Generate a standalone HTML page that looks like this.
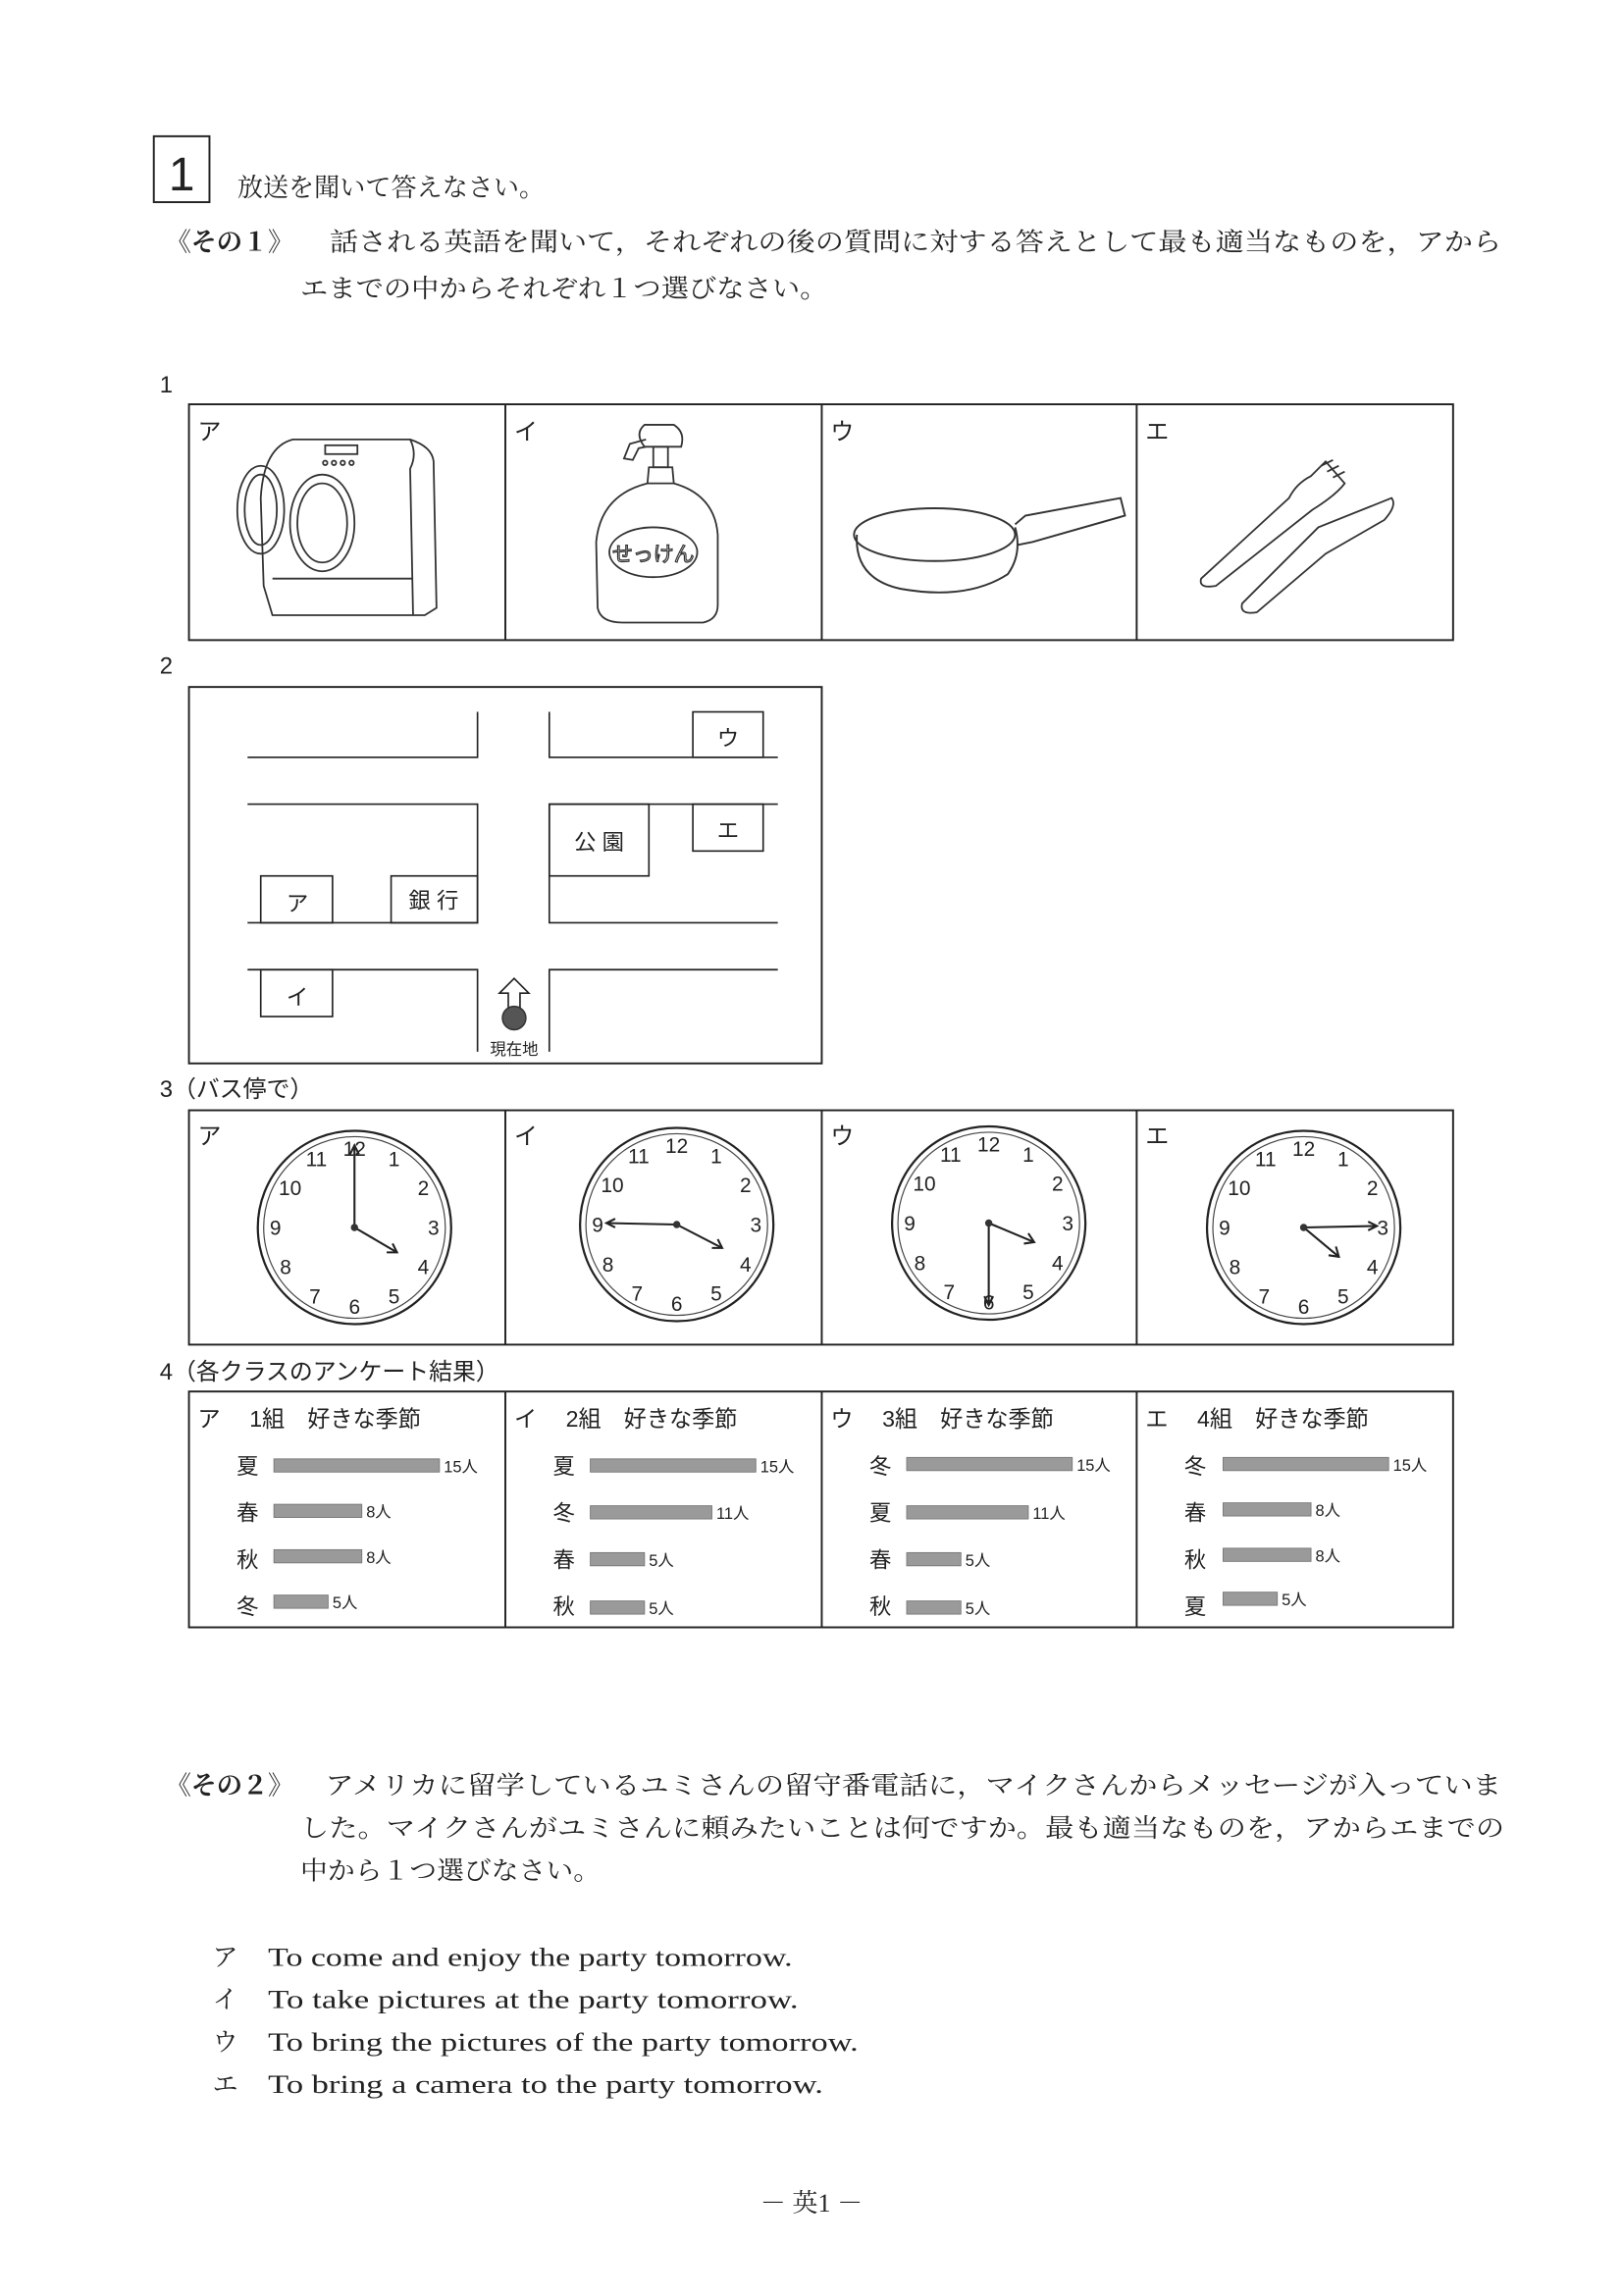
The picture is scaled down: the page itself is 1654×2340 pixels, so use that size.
<!DOCTYPE html>
<html><head><meta charset="utf-8"><style>
html,body{margin:0;padding:0;background:#fff}
svg{display:block}
.j{font-family:"Liberation Serif","Noto Serif CJK SC",serif;font-size:17.5px;fill:#222}
.s{font-family:"Liberation Sans","Noto Sans CJK JP",sans-serif;fill:#222}
.e{font-family:"Liberation Serif",serif;font-size:17.5px;fill:#222}
.n{font-family:"Liberation Sans",sans-serif;font-size:14px;fill:#222;text-anchor:middle}
.b{fill:#9a9a9a;stroke:#777;stroke-width:0.6}
.bl{font-family:"Liberation Sans","Noto Sans CJK JP",sans-serif;font-size:11px;fill:#222}
.sl{font-family:"Liberation Sans","Noto Sans CJK JP",sans-serif;font-size:15px;fill:#222;text-anchor:middle}
</style></head><body>
<svg width="1654" height="2340" viewBox="0 0 1108 1567.5" xmlns="http://www.w3.org/2000/svg">
<g fill="none" stroke="#222" stroke-width="1.3">
<rect x="105" y="93" width="38" height="45"/>
</g>
<text x="124" y="130" class="s" font-size="32" text-anchor="middle">1</text>
<text x="162" y="134" class="j">放送を聞いて答えなさい。</text>
<text x="113" y="171" class="j" font-weight="bold">《その１》</text>
<text x="225" y="171" class="j" textLength="800" lengthAdjust="spacingAndGlyphs">話される英語を聞いて，それぞれの後の質問に対する答えとして最も適当なものを，アから</text>
<text x="205" y="203" class="j" textLength="360" lengthAdjust="spacingAndGlyphs">エまでの中からそれぞれ１つ選びなさい。</text>

<text x="109" y="268" class="s" font-size="16">1</text>
<g fill="none" stroke="#222" stroke-width="1.3">
<rect x="129" y="276" width="863" height="161"/>
<line x1="345" y1="276" x2="345" y2="437"/><line x1="561" y1="276" x2="561" y2="437"/><line x1="776" y1="276" x2="776" y2="437"/>
</g>
<text x="135" y="300" class="s" font-size="16">ア</text>
<text x="351" y="300" class="s" font-size="16">イ</text>
<text x="567" y="300" class="s" font-size="16">ウ</text>
<text x="782" y="300" class="s" font-size="16">エ</text>
<!-- washing machine -->
<g fill="none" stroke="#333" stroke-width="1.2">
<path d="M200 300 L280 300 Q295 305 296 315 L298 415 L290 420 L186 420 L180 400 L178 340 Q180 305 200 300Z"/>
<path d="M280 300 Q285 310 280 320 L282 420"/>
<path d="M186 395 L282 395"/>
<rect x="222" y="304" width="22" height="6"/>
<circle cx="222" cy="316" r="1.5"/><circle cx="228" cy="316" r="1.5"/><circle cx="234" cy="316" r="1.5"/><circle cx="240" cy="316" r="1.5"/>
<ellipse cx="220" cy="357" rx="22" ry="33"/><ellipse cx="220" cy="357" rx="17" ry="27"/>
<ellipse cx="178" cy="348" rx="16" ry="30"/><ellipse cx="178" cy="348" rx="11" ry="24"/>
</g>
<!-- soap -->
<g fill="none" stroke="#333" stroke-width="1.2">
<path d="M440 290 L460 290 Q468 295 465 305 L440 305 Q433 296 440 290Z"/>
<path d="M441 300 L430 303 L426 313 L432 314 L436 306 L441 305"/>
<rect x="446" y="305" width="10" height="14"/>
<path d="M443 319 L459 319 L460 330 L442 330Z"/>
<path d="M442 330 Q410 338 407 370 L408 415 Q410 425 425 425 L480 425 Q490 423 490 413 L490 365 Q488 338 460 330"/>
<ellipse cx="446" cy="377" rx="30" ry="17"/>
</g>
<text x="446" y="383" font-family="Liberation Sans,Noto Sans CJK JP,sans-serif" font-size="14" text-anchor="middle" fill="none" stroke="#333" stroke-width="0.8">せっけん</text>
<!-- pan -->
<g fill="none" stroke="#333" stroke-width="1.3">
<path d="M585 365 Q583 395 615 402 Q660 410 688 392 Q698 378 693 360"/>
<ellipse cx="638" cy="365" rx="55" ry="18"/>
<path d="M693 358 L700 352 L765 340 L768 352 L705 370 L695 372"/>
</g>
<!-- fork knife -->
<g fill="none" stroke="#333" stroke-width="1.2">
<path d="M820 395 L880 340 Q885 330 895 325 L905 315 L918 330 Q912 338 896 348 L830 400 Q818 402 820 395Z"/>
<path d="M902 318 L910 314 M906 322 L914 318 M910 326 L918 322"/>
<path d="M848 412 L900 360 L950 340 Q954 345 945 355 L905 378 L858 418 Q846 420 848 412Z"/>
</g>

<text x="109" y="460" class="s" font-size="16">2</text>
<g fill="none" stroke="#222" stroke-width="1.3">
<rect x="129" y="469" width="432" height="257"/>
</g>
<g fill="none" stroke="#222" stroke-width="1.1">
<path d="M169 517 L326 517 L326 486"/><path d="M375 486 L375 517 L531 517"/>
<path d="M169 549 L326 549 L326 630 L169 630"/><path d="M531 549 L375 549 L375 630 L531 630"/>
<path d="M169 662 L326 662 L326 718"/><path d="M375 718 L375 662 L531 662"/>
<rect x="473" y="486" width="48" height="31"/>
<rect x="473" y="549" width="48" height="32"/>
<rect x="375" y="549" width="68" height="49"/>
<rect x="178" y="598" width="49" height="32"/>
<rect x="267" y="598" width="59" height="32"/>
<rect x="178" y="662" width="49" height="32"/>
<path d="M351 668 L361 678 L355 678 L355 690 L347 690 L347 678 L341 678Z"/>
</g>
<circle cx="351" cy="695" r="8" fill="#555" stroke="#333"/>
<text x="497" y="509" class="sl">ウ</text>
<text x="497" y="572" class="sl">エ</text>
<text x="409" y="580" class="sl" font-size="13">公 園</text>
<text x="203" y="622" class="sl">ア</text>
<text x="296" y="620" class="sl" font-size="14">銀 行</text>
<text x="203" y="686" class="sl">イ</text>
<text x="351" y="720" class="bl" text-anchor="middle" font-size="10">現在地</text>

<text x="109" y="749" class="s" font-size="16">3（バス停で）</text>
<g fill="none" stroke="#222" stroke-width="1.3">
<rect x="129" y="758" width="863" height="160"/>
<line x1="345" y1="758" x2="345" y2="918"/><line x1="561" y1="758" x2="561" y2="918"/><line x1="776" y1="758" x2="776" y2="918"/>
</g>
<text x="135" y="781" class="s" font-size="16">ア</text>
<text x="351" y="781" class="s" font-size="16">イ</text>
<text x="567" y="781" class="s" font-size="16">ウ</text>
<text x="782" y="781" class="s" font-size="16">エ</text>

<!-- clock ア -->
<g transform="translate(242,838)">
<circle r="66" fill="none" stroke="#222" stroke-width="1.5"/><circle r="62" fill="none" stroke="#444" stroke-width="0.8"/>
<text class="n" x="27" y="-42">1</text><text class="n" x="47" y="-22">2</text><text class="n" x="54" y="5">3</text><text class="n" x="47" y="32">4</text><text class="n" x="27" y="52">5</text><text class="n" x="0" y="59">6</text><text class="n" x="-27" y="52">7</text><text class="n" x="-47" y="32">8</text><text class="n" x="-54" y="5">9</text><text class="n" x="-44" y="-22">10</text><text class="n" x="-26" y="-42">11</text><text class="n" x="0" y="-49">12</text>
<g stroke="#222" stroke-width="1.4" fill="none"><line x1="0" y1="0" x2="0" y2="-56"/><path d="M-3 -50 L0 -56 L3 -50"/><line x1="0" y1="0" x2="29" y2="17"/><path d="M22 17 L29 17 L26 11"/></g>
<circle r="2.5" fill="#333"/></g>
<!-- clock イ -->
<g transform="translate(462,836)">
<circle r="66" fill="none" stroke="#222" stroke-width="1.5"/><circle r="62" fill="none" stroke="#444" stroke-width="0.8"/>
<text class="n" x="27" y="-42">1</text><text class="n" x="47" y="-22">2</text><text class="n" x="54" y="5">3</text><text class="n" x="47" y="32">4</text><text class="n" x="27" y="52">5</text><text class="n" x="0" y="59">6</text><text class="n" x="-27" y="52">7</text><text class="n" x="-47" y="32">8</text><text class="n" x="-54" y="5">9</text><text class="n" x="-44" y="-22">10</text><text class="n" x="-26" y="-42">11</text><text class="n" x="0" y="-49">12</text>
<g stroke="#222" stroke-width="1.4" fill="none"><line x1="0" y1="0" x2="-48" y2="-1"/><path d="M-42 -4 L-48 -1 L-42 2"/><line x1="0" y1="0" x2="31" y2="16"/><path d="M24 16 L31 16 L28 10"/></g>
<circle r="2.5" fill="#333"/></g>
<!-- clock ウ -->
<g transform="translate(675,835)">
<circle r="66" fill="none" stroke="#222" stroke-width="1.5"/><circle r="62" fill="none" stroke="#444" stroke-width="0.8"/>
<text class="n" x="27" y="-42">1</text><text class="n" x="47" y="-22">2</text><text class="n" x="54" y="5">3</text><text class="n" x="47" y="32">4</text><text class="n" x="27" y="52">5</text><text class="n" x="0" y="59">6</text><text class="n" x="-27" y="52">7</text><text class="n" x="-47" y="32">8</text><text class="n" x="-54" y="5">9</text><text class="n" x="-44" y="-22">10</text><text class="n" x="-26" y="-42">11</text><text class="n" x="0" y="-49">12</text>
<g stroke="#222" stroke-width="1.4" fill="none"><line x1="0" y1="0" x2="0" y2="56"/><path d="M-3 50 L0 56 L3 50"/><line x1="0" y1="0" x2="31" y2="13"/><path d="M24 14 L31 13 L27 7"/></g>
<circle r="2.5" fill="#333"/></g>
<!-- clock エ -->
<g transform="translate(890,838)">
<circle r="66" fill="none" stroke="#222" stroke-width="1.5"/><circle r="62" fill="none" stroke="#444" stroke-width="0.8"/>
<text class="n" x="27" y="-42">1</text><text class="n" x="47" y="-22">2</text><text class="n" x="54" y="5">3</text><text class="n" x="47" y="32">4</text><text class="n" x="27" y="52">5</text><text class="n" x="0" y="59">6</text><text class="n" x="-27" y="52">7</text><text class="n" x="-47" y="32">8</text><text class="n" x="-54" y="5">9</text><text class="n" x="-44" y="-22">10</text><text class="n" x="-26" y="-42">11</text><text class="n" x="0" y="-49">12</text>
<g stroke="#222" stroke-width="1.4" fill="none"><line x1="0" y1="0" x2="50" y2="-1"/><path d="M44 -4 L50 -1 L44 2"/><line x1="0" y1="0" x2="24" y2="20"/><path d="M17 19 L24 20 L22 13"/></g>
<circle r="2.5" fill="#333"/></g>

<text x="109" y="942" class="s" font-size="16">4（各クラスのアンケート結果）</text>
<g fill="none" stroke="#222" stroke-width="1.3">
<rect x="129" y="950" width="863" height="161"/>
<line x1="345" y1="950" x2="345" y2="1111"/><line x1="561" y1="950" x2="561" y2="1111"/><line x1="776" y1="950" x2="776" y2="1111"/>
</g>
<!-- col ア -->
<text x="135" y="974" class="s" font-size="15.5">ア　 1組　好きな季節</text>
<text x="169" y="1006" class="sl">夏</text><rect x="187" y="996" width="113" height="9" class="b"/><text x="303" y="1005" class="bl">15人</text>
<text x="169" y="1038" class="sl">春</text><rect x="187" y="1027" width="60" height="9" class="b"/><text x="250" y="1036" class="bl">8人</text>
<text x="169" y="1070" class="sl">秋</text><rect x="187" y="1058" width="60" height="9" class="b"/><text x="250" y="1067" class="bl">8人</text>
<text x="169" y="1102" class="sl">冬</text><rect x="187" y="1089" width="37" height="9" class="b"/><text x="227" y="1098" class="bl">5人</text>
<!-- col イ -->
<text x="351" y="974" class="s" font-size="15.5">イ　 2組　好きな季節</text>
<text x="385" y="1006" class="sl">夏</text><rect x="403" y="996" width="113" height="9" class="b"/><text x="519" y="1005" class="bl">15人</text>
<text x="385" y="1038" class="sl">冬</text><rect x="403" y="1028" width="83" height="9" class="b"/><text x="489" y="1037" class="bl">11人</text>
<text x="385" y="1070" class="sl">春</text><rect x="403" y="1060" width="37" height="9" class="b"/><text x="443" y="1069" class="bl">5人</text>
<text x="385" y="1102" class="sl">秋</text><rect x="403" y="1093" width="37" height="9" class="b"/><text x="443" y="1102" class="bl">5人</text>
<!-- col ウ -->
<text x="567" y="974" class="s" font-size="15.5">ウ　 3組　好きな季節</text>
<text x="601" y="1006" class="sl">冬</text><rect x="619" y="995" width="113" height="9" class="b"/><text x="735" y="1004" class="bl">15人</text>
<text x="601" y="1038" class="sl">夏</text><rect x="619" y="1028" width="83" height="9" class="b"/><text x="705" y="1037" class="bl">11人</text>
<text x="601" y="1070" class="sl">春</text><rect x="619" y="1060" width="37" height="9" class="b"/><text x="659" y="1069" class="bl">5人</text>
<text x="601" y="1102" class="sl">秋</text><rect x="619" y="1093" width="37" height="9" class="b"/><text x="659" y="1102" class="bl">5人</text>
<!-- col エ -->
<text x="782" y="974" class="s" font-size="15.5">エ　 4組　好きな季節</text>
<text x="816" y="1006" class="sl">冬</text><rect x="835" y="995" width="113" height="9" class="b"/><text x="951" y="1004" class="bl">15人</text>
<text x="816" y="1038" class="sl">春</text><rect x="835" y="1026" width="60" height="9" class="b"/><text x="898" y="1035" class="bl">8人</text>
<text x="816" y="1070" class="sl">秋</text><rect x="835" y="1057" width="60" height="9" class="b"/><text x="898" y="1066" class="bl">8人</text>
<text x="816" y="1102" class="sl">夏</text><rect x="835" y="1087" width="37" height="9" class="b"/><text x="875" y="1096" class="bl">5人</text>

<text x="113" y="1225" class="j" font-weight="bold">《その２》</text>
<text x="222" y="1225" class="j" textLength="803" lengthAdjust="spacingAndGlyphs">アメリカに留学しているユミさんの留守番電話に，マイクさんからメッセージが入っていま</text>
<text x="205" y="1254" class="j" textLength="822" lengthAdjust="spacingAndGlyphs">した。マイクさんがユミさんに頼みたいことは何ですか。最も適当なものを，アからエまでの</text>
<text x="205" y="1283" class="j" textLength="205" lengthAdjust="spacingAndGlyphs">中から１つ選びなさい。</text>

<text x="145" y="1342" class="j">ア</text><text x="183" y="1342" class="e" textLength="358" lengthAdjust="spacingAndGlyphs">To come and enjoy the party tomorrow.</text>
<text x="145" y="1371" class="j">イ</text><text x="183" y="1371" class="e" textLength="362" lengthAdjust="spacingAndGlyphs">To take pictures at the party tomorrow.</text>
<text x="145" y="1400" class="j">ウ</text><text x="183" y="1400" class="e" textLength="403" lengthAdjust="spacingAndGlyphs">To bring the pictures of the party tomorrow.</text>
<text x="145" y="1429" class="j">エ</text><text x="183" y="1429" class="e" textLength="379" lengthAdjust="spacingAndGlyphs">To bring a camera to the party tomorrow.</text>

<text x="554" y="1510" class="j" font-size="20" text-anchor="middle">－ 英1 －</text>
</svg>
</body></html>
